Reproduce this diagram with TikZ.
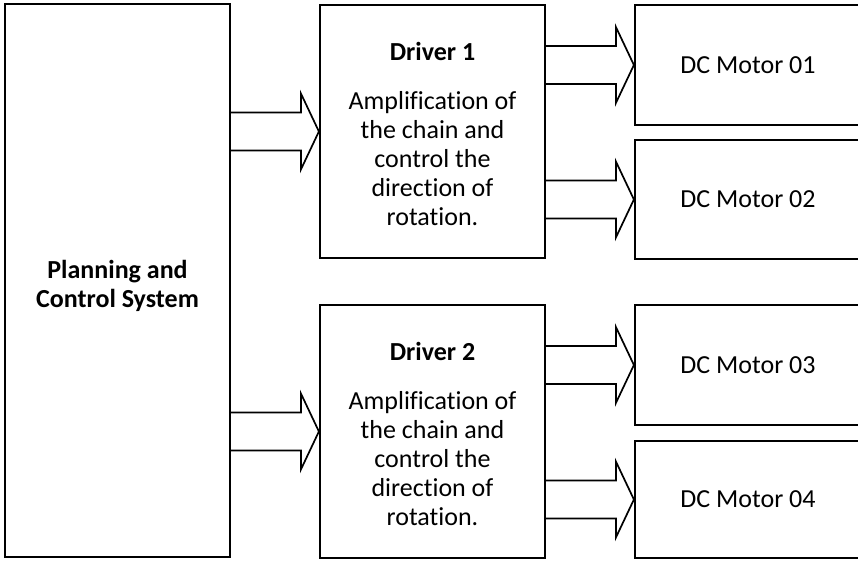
\documentclass[tikz,border=0pt]{standalone}
\usepackage{fontspec}
\setmainfont{Carlito}[Ligatures=NoCommon]
\usetikzlibrary{calc}
\begin{document}
\begin{tikzpicture}[x=1pt,y=-1pt,
  box/.style={draw, line width=2.2pt, inner sep=0pt},
  txt/.style={align=center, inner sep=0pt, font=\fontsize{26}{29}\selectfont},
  blk/.style={draw, line width=1.7pt, line join=miter}]
\useasboundingbox (0,0) rectangle (858,562);
\clip (0,0) rectangle (858,562);
\fill[white] (0,0) rectangle (858,562);
% boxes
\node[box, minimum width=225, minimum height=553] (plan) at (117.5,280.5) {};
\node[box, minimum width=225, minimum height=253] (drv1) at (432.5,131.5) {};
\node[box, minimum width=225, minimum height=253] (drv2) at (432.5,431.5) {};
\node[box, txt, minimum width=226, minimum height=120] (m1) at (748,65) {DC Motor 01};
\node[box, txt, minimum width=226, minimum height=119] (m2) at (748,199.5) {DC Motor 02};
\node[box, txt, minimum width=226, minimum height=120] (m3) at (748,365) {DC Motor 03};
\node[box, txt, minimum width=226, minimum height=117] (m4) at (748,499.5) {DC Motor 04};
% texts
\node[txt] (plantxt) at ($(plan.center)+(0,5)$) {\textbf{Planning and}\\\textbf{Control System}};
\node[txt] (d1txt) at ($(drv1.center)+(0,2.5)$) {\textbf{Driver 1}\\[20pt]Amplification of\\the chain and\\control the\\direction of\\rotation.};
\node[txt] (d2txt) at ($(drv2.center)+(0,2.5)$) {\textbf{Driver 2}\\[20pt]Amplification of\\the chain and\\control the\\direction of\\rotation.};
% block arrows
\newcommand{\blockarrow}[2]{%
  \draw[blk] let \p1=(#2.west), \p2=(#1.east) in
    (\x2,\y1+19pt) -- (\x1-18pt,\y1+19pt) -- (\x1-18pt,\y1+38pt) -- (\x1,\y1)
    -- (\x1-18pt,\y1-38pt) -- (\x1-18pt,\y1-19pt) -- (\x2,\y1-19pt);}
\blockarrow{plan}{drv1}
\blockarrow{plan}{drv2}
\blockarrow{drv1}{m1}
\blockarrow{drv1}{m2}
\blockarrow{drv2}{m3}
\blockarrow{drv2}{m4}
\end{tikzpicture}
\end{document}
